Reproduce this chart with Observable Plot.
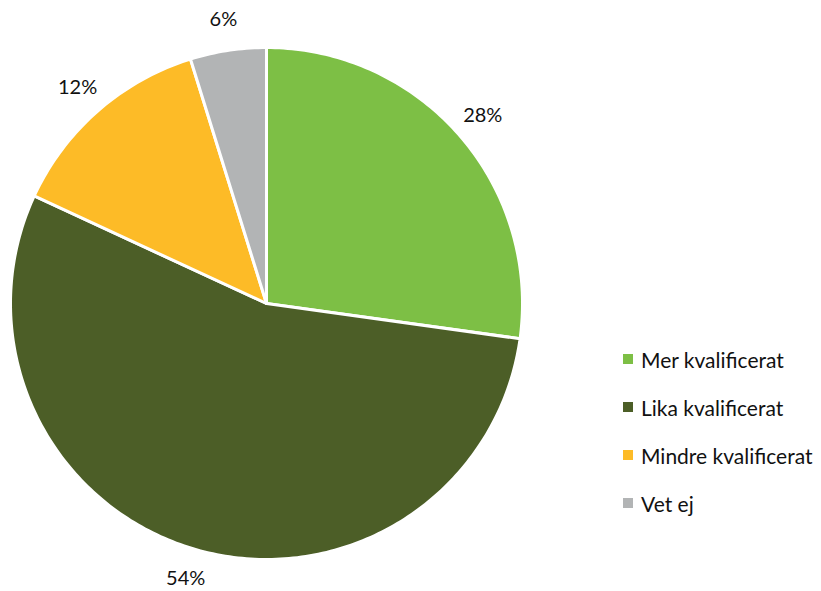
<!DOCTYPE html>
<html>
<head>
<meta charset="utf-8">
<script src="https://cdn.jsdelivr.net/npm/d3@7"></script>
<script src="https://cdn.jsdelivr.net/npm/@observablehq/plot@0.6"></script>
<style>
  html, body { margin: 0; padding: 0; background: #fff; }
  #wrap { position: relative; width: 821px; height: 591px; font-family: Lato, "Open Sans", sans-serif; }
  #legend { position: absolute; left: 623px; top: 335px; font-size: 21px; color: #111; }
  .li { display: flex; align-items: center; height: 48px; }
  .sw { width: 10px; height: 10px; margin-right: 8px; }
</style>
</head>
<body>
<div id="wrap"><div id="chart"></div><div id="legend"></div></div>
<script>
const categories = ["Mer kvalificerat", "Lika kvalificerat", "Mindre kvalificerat", "Vet ej"];
const shares = [27.2, 54.7, 13.3, 4.8];          // slice sizes as drawn
const labels = ["28%", "54%", "12%", "6%"];       // printed labels
const colors = ["#7DBF45", "#4C5E27", "#FDBB27", "#B2B4B5"];

const pie = d3.pie().sort(null).value(d => d.value)(
  categories.map((c, i) => ({cat: c, value: shares[i], label: labels[i]}))
);

// polygon points of each slice (angle clockwise from 12 o'clock, unit radius)
const pts = [];
pie.forEach(p => {
  const n = Math.max(8, Math.ceil((p.endAngle - p.startAngle) * 60));
  pts.push({cat: p.data.cat, x: 0, y: 0});
  for (let k = 0; k <= n; k++) {
    const a = p.startAngle + (p.endAngle - p.startAngle) * k / n;
    pts.push({cat: p.data.cat, x: Math.sin(a), y: Math.cos(a)});
  }
  pts.push({cat: p.data.cat, x: 0, y: 0});
});

const labelR = 1.12;
const labelPts = pie.map(p => {
  const a = (p.startAngle + p.endAngle) / 2;
  return {label: p.data.label, x: labelR * Math.sin(a), y: labelR * Math.cos(a)};
});

const chart = Plot.plot({
  width: 821,
  height: 591,
  margin: 0,
  style: {fontFamily: "Lato, 'Open Sans', sans-serif", background: "#fff"},
  x: {domain: [-1, 1], range: [10, 522], axis: null},
  y: {domain: [-1, 1], range: [559, 47], axis: null},
  color: {domain: categories, range: colors},
  marks: [
    Plot.line(pts, {x: "x", y: "y", z: "cat", fill: "cat", stroke: "#fff", strokeWidth: 3, strokeLinejoin: "round", curve: "linear"}),
    Plot.text(labelPts, {x: "x", y: "y", text: "label", fontSize: 20, fill: "#111"})
  ]
});
document.getElementById("chart").appendChild(chart);

const leg = document.getElementById("legend");
categories.forEach((c, i) => {
  const row = document.createElement("div");
  row.className = "li";
  row.innerHTML = `<span class="sw" style="background:${colors[i]}"></span><span>${c}</span>`;
  leg.appendChild(row);
});
</script>
</body>
</html>
